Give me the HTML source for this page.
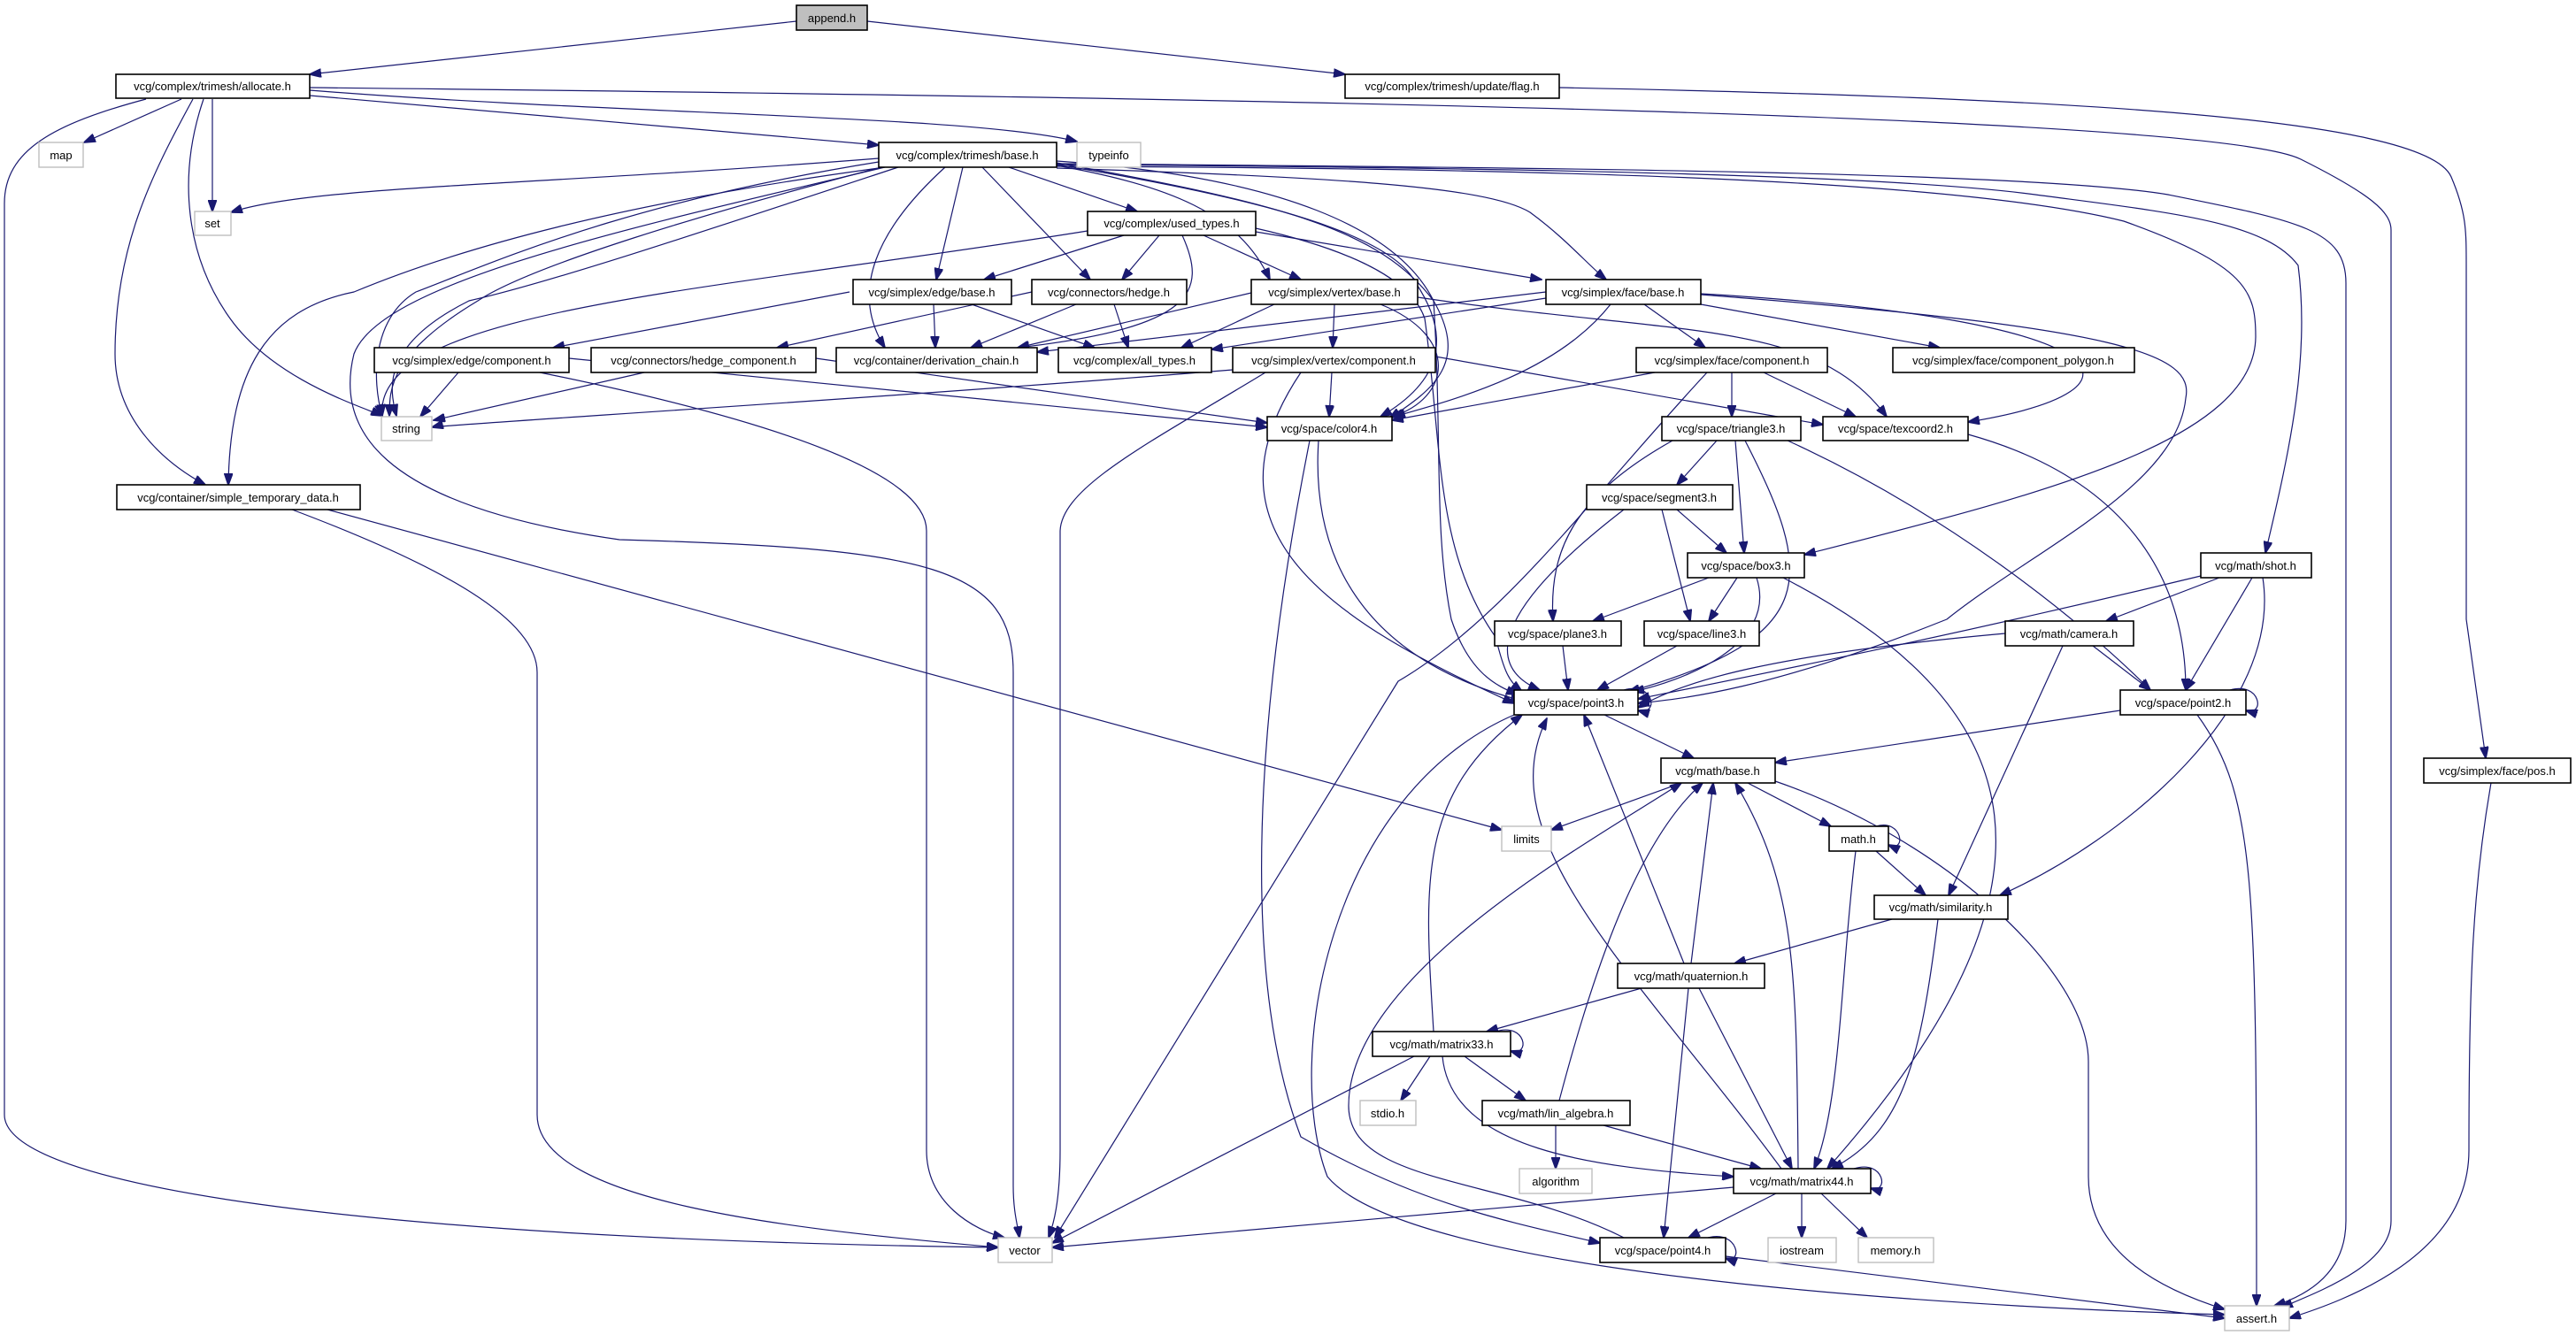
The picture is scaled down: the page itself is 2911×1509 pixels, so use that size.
<!DOCTYPE html>
<html><head><meta charset="utf-8"><style>
html,body{margin:0;padding:0;background:#fff;}
svg{display:block;}
text{font-family:"Liberation Sans",sans-serif;font-size:13px;fill:#000;text-anchor:middle;}
.n{fill:#fff;stroke:#000;stroke-width:1.6;}
.g{fill:#fff;stroke:#bfbfbf;stroke-width:1.4;}
.e{fill:none;stroke:#191970;stroke-width:1.2;}
</style></head><body>
<svg width="2911" height="1509" viewBox="0 0 2911 1509" xmlns="http://www.w3.org/2000/svg">
<defs><marker id="a" markerWidth="14" markerHeight="10" refX="13" refY="5" orient="auto" markerUnits="userSpaceOnUse"><path d="M0,0 L14,5 L0,10 z" fill="#191970" stroke="#191970"/></marker></defs>
<g class="e" marker-end="url(#a)">
<path d="M900,24 L350,84"/>
<path d="M980,24 L1520,84"/>
<path d="M205,112 L95,161"/>
<path d="M240,112 L240,239"/>
<path d="M230,112 C200,200 210,290 260,360 S410,460 432,470"/>
<path d="M218,112 C170,200 130,280 130,400 C130,470 180,520 232,548"/>
<path d="M165,112 C60,140 5,170 5,230 L5,1260 C5,1340 400,1400 1128,1410"/>
<path d="M350,108 L993,164"/>
<path d="M350,102 C700,130 1100,130 1217,160"/>
<path d="M350,99 C1400,110 2500,130 2600,180 C2680,220 2702,240 2702,260 L2702,1380 C2702,1430 2620,1460 2578,1478"/>
<path d="M1762,99 C2300,110 2740,130 2770,200 C2787,240 2787,260 2787,300 L2787,700 L2809,857"/>
<path d="M2815,885 C2795,1000 2790,1100 2790,1300 C2790,1420 2650,1470 2587,1490"/>
<path d="M993,179 C600,210 350,210 261,240"/>
<path d="M993,183 C700,230 550,300 470,330 C420,360 420,430 432,470"/>
<path d="M1000,188 C800,240 600,300 540,340 C440,400 440,440 440,470"/>
<path d="M1015,189 C800,260 620,320 530,340 C430,390 440,440 448,470"/>
<path d="M993,190 C700,230 520,280 400,330 C300,350 260,420 258,548"/>
<path d="M1000,189 C700,260 430,320 400,400 C380,480 420,570 700,610 C1050,620 1145,640 1145,760 L1145,1340 C1145,1370 1150,1385 1152,1399"/>
<path d="M1140,189 L1285,239"/>
<path d="M1088,189 L1058,316"/>
<path d="M1110,189 L1232,316"/>
<path d="M1068,189 C990,260 960,330 1000,393"/>
<path d="M1194,187 C1320,210 1400,240 1435,316"/>
<path d="M1194,190 C1500,200 1680,210 1729,240 C1770,270 1795,300 1815,316"/>
<path d="M1194,186 C1400,220 1570,260 1600,320 C1640,380 1630,430 1560,471"/>
<path d="M1194,184 C1450,230 1560,260 1620,340 C1660,410 1620,440 1570,473"/>
<path d="M1194,182 C1450,200 1580,260 1620,340 C1630,500 1620,600 1640,700 C1660,760 1690,775 1715,785"/>
<path d="M1194,188 C1700,190 2200,200 2400,250 C2540,300 2549,330 2549,380 C2549,500 2300,560 2039,627"/>
<path d="M1194,186 C1800,190 2150,200 2300,220 C2450,240 2560,250 2597,300 C2610,400 2590,500 2560,625"/>
<path d="M1194,185 C1800,190 2300,195 2450,220 C2600,250 2651,260 2651,320 L2651,1380 C2651,1430 2620,1460 2570,1476"/>
<path d="M1270,266 L1112,316"/>
<path d="M1310,266 L1268,316"/>
<path d="M1336,266 C1365,330 1350,370 1150,393"/>
<path d="M1360,266 L1470,316"/>
<path d="M1419,262 L1742,316"/>
<path d="M1229,261 C800,330 420,350 432,470"/>
<path d="M1419,258 C1560,290 1600,330 1610,360 C1630,500 1620,620 1690,720 C1700,760 1705,770 1720,782"/>
<path d="M960,330 L625,393"/>
<path d="M1055,344 L1057,393"/>
<path d="M1098,344 L1237,393"/>
<path d="M1166,330 L878,393"/>
<path d="M1216,344 L1097,393"/>
<path d="M1259,344 L1275,393"/>
<path d="M1414,331 L1150,393"/>
<path d="M1440,344 L1335,393"/>
<path d="M1508,344 L1506,393"/>
<path d="M1560,344 C1650,380 1640,450 1573,471"/>
<path d="M1602,336 C1900,380 2050,360 2132,471"/>
<path d="M1747,330 L1172,398"/>
<path d="M1747,337 L1369,395"/>
<path d="M1858,344 L1927,393"/>
<path d="M1922,344 L2192,393"/>
<path d="M1820,344 C1760,420 1650,450 1575,471"/>
<path d="M1922,332 C2400,360 2450,440 2224,477"/>
<path d="M1922,333 C2400,370 2480,400 2470,450 C2460,550 2300,620 2200,700 C2000,780 1900,790 1851,795"/>
<path d="M1393,418 C1000,450 500,480 488,483"/>
<path d="M1505,421 L1502,471"/>
<path d="M1622,403 L2060,480"/>
<path d="M1430,421 C1300,500 1200,550 1198,600 L1198,1300 C1198,1360 1190,1385 1185,1399"/>
<path d="M1470,421 C1350,600 1500,700 1711,795"/>
<path d="M518,421 L475,471"/>
<path d="M643,405 L1432,483"/>
<path d="M610,421 C900,480 1047,540 1047,600 L1047,1300 C1047,1360 1100,1390 1135,1399"/>
<path d="M728,421 L490,475"/>
<path d="M922,405 L1432,478"/>
<path d="M330,576 C500,640 607,700 607,760 L607,1260 C607,1360 900,1390 1128,1410"/>
<path d="M370,576 L1697,938"/>
<path d="M1870,421 L1573,475"/>
<path d="M1957,421 L1957,471"/>
<path d="M1993,421 L2097,471"/>
<path d="M1929,421 C1800,560 1700,700 1580,770 L1192,1399"/>
<path d="M1490,498 C1480,650 1560,750 1720,792"/>
<path d="M1480,498 C1420,800 1400,1100 1470,1285 C1600,1360 1700,1380 1808,1405"/>
<path d="M1940,498 L1895,548"/>
<path d="M1961,498 L1971,625"/>
<path d="M1890,498 C1780,560 1750,620 1755,702"/>
<path d="M1972,498 C2050,650 2060,720 1840,782"/>
<path d="M2020,498 C2200,580 2350,700 2430,780"/>
<path d="M1895,576 L1951,625"/>
<path d="M1878,576 L1910,702"/>
<path d="M1835,576 C1700,680 1670,750 1740,780"/>
<path d="M2224,491 C2400,540 2470,650 2470,780"/>
<path d="M1931,653 L1800,702"/>
<path d="M1963,653 L1931,702"/>
<path d="M1985,653 C2010,730 1900,770 1845,782"/>
<path d="M2015,653 C2300,800 2350,1000 2065,1321"/>
<path d="M2508,653 L2380,702"/>
<path d="M2487,651 C2200,720 2000,760 1851,790"/>
<path d="M2545,653 L2470,780"/>
<path d="M2557,653 C2580,800 2400,950 2260,1012"/>
<path d="M2266,716 C2000,740 1900,770 1851,800"/>
<path d="M2365,730 L2430,780"/>
<path d="M2331,730 L2202,1012"/>
<path d="M1766,730 L1772,780"/>
<path d="M1895,730 L1805,780"/>
<path d="M1813,808 L1914,857"/>
<path d="M1711,808 C1500,900 1450,1200 1500,1330 C1600,1450 2300,1480 2514,1486"/>
<path d="M2396,803 L2006,862"/>
<path d="M2483,808 C2550,900 2550,1000 2550,1476"/>
<path d="M1900,885 L1753,938"/>
<path d="M1975,885 L2069,934"/>
<path d="M2006,883 C2200,950 2360,1100 2360,1200 L2360,1330 C2360,1420 2450,1460 2514,1480"/>
<path d="M2120,962 L2176,1012"/>
<path d="M2097,962 C2080,1100 2080,1250 2050,1321"/>
<path d="M2138,1039 L1960,1089"/>
<path d="M2190,1039 C2170,1200 2150,1280 2070,1321"/>
<path d="M1855,1117 L1680,1166"/>
<path d="M1903,1089 L1790,808"/>
<path d="M1911,1089 L1936,885"/>
<path d="M1920,1117 L2025,1321"/>
<path d="M1908,1117 L1880,1399"/>
<path d="M1620,1166 C1610,1000 1600,900 1720,808"/>
<path d="M1616,1194 L1583,1244"/>
<path d="M1655,1194 L1724,1244"/>
<path d="M1630,1194 C1640,1300 1800,1320 1959,1330"/>
<path d="M1598,1194 L1189,1405"/>
<path d="M1762,1244 C1800,1100 1850,950 1924,885"/>
<path d="M1758,1272 L1758,1321"/>
<path d="M1812,1272 L1990,1321"/>
<path d="M2013,1321 C1850,1100 1680,950 1748,812"/>
<path d="M2032,1321 C2030,1100 2030,1000 1961,885"/>
<path d="M1959,1342 L1189,1410"/>
<path d="M2007,1349 L1908,1399"/>
<path d="M2036,1349 L2036,1399"/>
<path d="M2058,1349 L2110,1399"/>
<path d="M1835,1399 C1700,1330 1524,1340 1524,1250 C1524,1100 1800,950 1900,885"/>
<path d="M1950,1420 L2514,1490"/>
<path d="M1835,780 C1870,770 1875,810 1851,803"/>
<path d="M2520,780 C2555,770 2560,810 2538,803"/>
<path d="M2120,934 C2150,925 2155,965 2134,955"/>
<path d="M1690,1166 C1725,1155 1730,1195 1707,1188"/>
<path d="M2095,1321 C2130,1310 2135,1350 2114,1343"/>
<path d="M1930,1399 C1965,1390 1970,1430 1950,1422"/>
</g>
<g>
<rect x="900" y="6" width="80" height="28" fill="#bfbfbf" stroke="#000" stroke-width="1.6"/><text x="940" y="25">append.h</text>
<rect class="n" x="131" y="84" width="219" height="27"/><text x="240" y="102">vcg/complex/trimesh/allocate.h</text>
<rect class="n" x="1520" y="84" width="242" height="27"/><text x="1641" y="102">vcg/complex/trimesh/update/flag.h</text>
<rect class="g" x="44" y="161" width="50" height="28"/><text x="69" y="180">map</text>
<rect class="n" x="993" y="161" width="201" height="28"/><text x="1093" y="180">vcg/complex/trimesh/base.h</text>
<rect class="g" x="1217" y="161" width="72" height="28"/><text x="1253" y="180">typeinfo</text>
<rect class="g" x="220" y="239" width="41" height="27"/><text x="240" y="257">set</text>
<rect class="n" x="1229" y="239" width="190" height="27"/><text x="1324" y="257">vcg/complex/used_types.h</text>
<rect class="n" x="964" y="316" width="179" height="28"/><text x="1053" y="335">vcg/simplex/edge/base.h</text>
<rect class="n" x="1166" y="316" width="175" height="28"/><text x="1253" y="335">vcg/connectors/hedge.h</text>
<rect class="n" x="1414" y="316" width="188" height="28"/><text x="1508" y="335">vcg/simplex/vertex/base.h</text>
<rect class="n" x="1747" y="316" width="175" height="28"/><text x="1834" y="335">vcg/simplex/face/base.h</text>
<rect class="n" x="423" y="393" width="220" height="28"/><text x="533" y="412">vcg/simplex/edge/component.h</text>
<rect class="n" x="668" y="393" width="254" height="28"/><text x="795" y="412">vcg/connectors/hedge_component.h</text>
<rect class="n" x="945" y="393" width="227" height="28"/><text x="1058" y="412">vcg/container/derivation_chain.h</text>
<rect class="n" x="1196" y="393" width="173" height="28"/><text x="1282" y="412">vcg/complex/all_types.h</text>
<rect class="n" x="1393" y="393" width="229" height="28"/><text x="1507" y="412">vcg/simplex/vertex/component.h</text>
<rect class="n" x="1849" y="393" width="216" height="28"/><text x="1957" y="412">vcg/simplex/face/component.h</text>
<rect class="n" x="2139" y="393" width="273" height="28"/><text x="2275" y="412">vcg/simplex/face/component_polygon.h</text>
<rect class="g" x="431" y="471" width="57" height="27"/><text x="459" y="489">string</text>
<rect class="n" x="1432" y="471" width="141" height="27"/><text x="1502" y="489">vcg/space/color4.h</text>
<rect class="n" x="1878" y="471" width="157" height="27"/><text x="1956" y="489">vcg/space/triangle3.h</text>
<rect class="n" x="2060" y="471" width="164" height="27"/><text x="2142" y="489">vcg/space/texcoord2.h</text>
<rect class="n" x="132" y="548" width="275" height="28"/><text x="269" y="567">vcg/container/simple_temporary_data.h</text>
<rect class="n" x="1793" y="548" width="165" height="28"/><text x="1875" y="567">vcg/space/segment3.h</text>
<rect class="n" x="1907" y="625" width="132" height="28"/><text x="1973" y="644">vcg/space/box3.h</text>
<rect class="n" x="2487" y="625" width="125" height="28"/><text x="2549" y="644">vcg/math/shot.h</text>
<rect class="n" x="1689" y="702" width="143" height="28"/><text x="1760" y="721">vcg/space/plane3.h</text>
<rect class="n" x="1858" y="702" width="130" height="28"/><text x="1923" y="721">vcg/space/line3.h</text>
<rect class="n" x="2266" y="702" width="145" height="28"/><text x="2338" y="721">vcg/math/camera.h</text>
<rect class="n" x="1711" y="780" width="140" height="28"/><text x="1781" y="799">vcg/space/point3.h</text>
<rect class="n" x="2396" y="780" width="142" height="28"/><text x="2467" y="799">vcg/space/point2.h</text>
<rect class="n" x="1877" y="857" width="129" height="28"/><text x="1941" y="876">vcg/math/base.h</text>
<rect class="n" x="2739" y="857" width="166" height="28"/><text x="2822" y="876">vcg/simplex/face/pos.h</text>
<rect class="g" x="1697" y="934" width="56" height="28"/><text x="1725" y="953">limits</text>
<rect class="n" x="2067" y="934" width="67" height="28"/><text x="2100" y="953">math.h</text>
<rect class="n" x="2118" y="1012" width="151" height="27"/><text x="2193" y="1030">vcg/math/similarity.h</text>
<rect class="n" x="1828" y="1089" width="166" height="28"/><text x="1911" y="1108">vcg/math/quaternion.h</text>
<rect class="n" x="1551" y="1166" width="156" height="28"/><text x="1629" y="1185">vcg/math/matrix33.h</text>
<rect class="g" x="1537" y="1244" width="63" height="28"/><text x="1568" y="1263">stdio.h</text>
<rect class="n" x="1675" y="1244" width="167" height="28"/><text x="1758" y="1263">vcg/math/lin_algebra.h</text>
<rect class="g" x="1717" y="1321" width="82" height="28"/><text x="1758" y="1340">algorithm</text>
<rect class="n" x="1959" y="1321" width="155" height="28"/><text x="2036" y="1340">vcg/math/matrix44.h</text>
<rect class="g" x="1128" y="1399" width="61" height="28"/><text x="1158" y="1418">vector</text>
<rect class="n" x="1808" y="1399" width="142" height="28"/><text x="1879" y="1418">vcg/space/point4.h</text>
<rect class="g" x="1998" y="1399" width="77" height="28"/><text x="2036" y="1418">iostream</text>
<rect class="g" x="2100" y="1399" width="85" height="28"/><text x="2142" y="1418">memory.h</text>
<rect class="g" x="2514" y="1476" width="73" height="28"/><text x="2550" y="1495">assert.h</text>
</g>
</svg>
</body></html>
